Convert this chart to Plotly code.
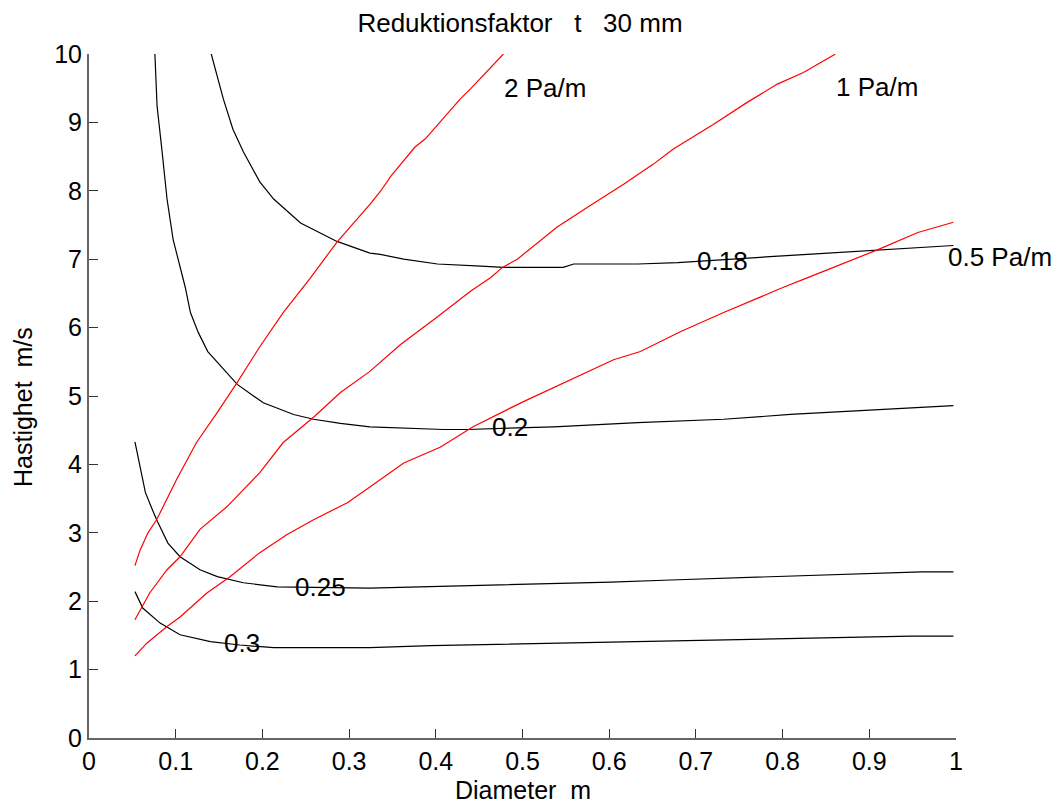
import plotly.graph_objects as go

# Reduction factor curves (black)
c018_x = [0.141, 0.155, 0.166, 0.178, 0.197, 0.213, 0.244, 0.259, 0.286, 0.324, 0.336, 0.363, 0.402, 0.452, 0.478, 0.547, 0.559, 0.633, 0.679, 0.79, 0.867, 0.913, 0.997]
c018_y = [10.0, 9.34, 8.9, 8.57, 8.13, 7.88, 7.53, 7.43, 7.26, 7.09, 7.07, 7.0, 6.93, 6.9, 6.88, 6.88, 6.93, 6.93, 6.95, 7.04, 7.1, 7.14, 7.2]

c02_x = [0.076, 0.0785, 0.084, 0.09, 0.097, 0.111, 0.117, 0.126, 0.137, 0.148, 0.171, 0.201, 0.236, 0.259, 0.29, 0.324, 0.409, 0.436, 0.536, 0.633, 0.732, 0.809, 0.905, 0.997]
c02_y = [10.0, 9.24, 8.61, 7.88, 7.29, 6.59, 6.22, 5.93, 5.65, 5.49, 5.17, 4.9, 4.73, 4.66, 4.6, 4.55, 4.51, 4.51, 4.55, 4.61, 4.66, 4.73, 4.8, 4.86]

c025_x = [0.053, 0.059, 0.065, 0.073, 0.078, 0.091, 0.105, 0.128, 0.148, 0.178, 0.217, 0.324, 0.448, 0.524, 0.602, 0.671, 0.748, 0.813, 0.882, 0.96, 0.997]
c025_y = [4.33, 3.97, 3.59, 3.34, 3.19, 2.85, 2.65, 2.46, 2.36, 2.27, 2.21, 2.19, 2.23, 2.25, 2.28, 2.31, 2.34, 2.37, 2.4, 2.43, 2.43]

c03_x = [0.053, 0.062, 0.082, 0.105, 0.14, 0.174, 0.213, 0.324, 0.394, 0.517, 0.625, 0.729, 0.833, 0.948, 0.997]
c03_y = [2.14, 1.9, 1.68, 1.51, 1.41, 1.36, 1.32, 1.32, 1.35, 1.38, 1.4, 1.43, 1.46, 1.49, 1.49]

# Pressure drop curves (red)
p2_x = [0.053, 0.059, 0.068, 0.078, 0.101, 0.124, 0.148, 0.171, 0.197, 0.224, 0.255, 0.286, 0.324, 0.336, 0.348, 0.376, 0.388, 0.428, 0.44, 0.478]
p2_y = [2.52, 2.75, 3.0, 3.19, 3.78, 4.32, 4.76, 5.2, 5.72, 6.22, 6.72, 7.25, 7.8, 7.99, 8.21, 8.64, 8.76, 9.34, 9.49, 10.0]

p1_x = [0.053, 0.07, 0.09, 0.105, 0.128, 0.159, 0.197, 0.224, 0.259, 0.29, 0.324, 0.359, 0.402, 0.44, 0.463, 0.477, 0.494, 0.54, 0.575, 0.617, 0.651, 0.674, 0.72, 0.76, 0.794, 0.824, 0.861]
p1_y = [1.73, 2.12, 2.46, 2.65, 3.05, 3.38, 3.88, 4.32, 4.69, 5.05, 5.36, 5.75, 6.16, 6.53, 6.73, 6.88, 7.0, 7.47, 7.76, 8.1, 8.39, 8.61, 8.97, 9.3, 9.56, 9.73, 10.0]

p05_x = [0.053, 0.067, 0.09, 0.105, 0.136, 0.163, 0.197, 0.228, 0.259, 0.298, 0.324, 0.363, 0.405, 0.443, 0.498, 0.555, 0.605, 0.636, 0.682, 0.732, 0.767, 0.801, 0.829, 0.859, 0.882, 0.91, 0.956, 0.997]
p05_y = [1.2, 1.39, 1.63, 1.77, 2.12, 2.36, 2.71, 2.97, 3.19, 3.44, 3.67, 4.02, 4.25, 4.55, 4.9, 5.24, 5.53, 5.65, 5.94, 6.22, 6.41, 6.59, 6.73, 6.88, 7.0, 7.14, 7.39, 7.54]

# Labels
contour_labels = ["0.18", "0.2", "0.25", "0.3"]
contour_label_x = [0.731, 0.485, 0.267, 0.177]
contour_label_y = [6.97, 4.55, 2.21, 1.39]

pressure_labels = ["2 Pa/m", "1 Pa/m", "0.5 Pa/m"]
pressure_label_x = [0.476, 0.859, 0.989]
pressure_label_y = [9.5, 9.52, 7.03]

x_ticks = [0, 0.1, 0.2, 0.3, 0.4, 0.5, 0.6, 0.7, 0.8, 0.9, 1]
x_tick_text = ["0", "0.1", "0.2", "0.3", "0.4", "0.5", "0.6", "0.7", "0.8", "0.9", "1"]
y_ticks = list(range(0, 11))

FONT = "Arial, 'Liberation Sans', sans-serif"
FS = 26
TFS = 25

fig = go.Figure()
for xs, ys in [(c018_x, c018_y), (c02_x, c02_y), (c025_x, c025_y), (c03_x, c03_y)]:
    fig.add_trace(go.Scatter(x=xs, y=ys, mode="lines", line=dict(color="black", width=1.2), showlegend=False, hoverinfo="skip"))
for xs, ys in [(p2_x, p2_y), (p1_x, p1_y), (p05_x, p05_y)]:
    fig.add_trace(go.Scatter(x=xs, y=ys, mode="lines", line=dict(color="#ff0000", width=1.2), showlegend=False, hoverinfo="skip"))

annotations = []
for t, x, y in zip(contour_labels, contour_label_x, contour_label_y):
    annotations.append(dict(x=x, y=y, xref="x", yref="y", text=t, showarrow=False,
                            xanchor="center", yanchor="middle", font=dict(family=FONT, size=FS, color="black")))
for t, x, y in zip(pressure_labels, pressure_label_x, pressure_label_y):
    annotations.append(dict(x=x, y=y, xref="x", yref="y", text=t, showarrow=False,
                            xanchor="left", yanchor="middle", font=dict(family=FONT, size=FS, color="black")))
# Axis titles
annotations.append(dict(x=0.5, y=0, xref="paper", yref="paper", text="Diameter\u00a0\u00a0m", showarrow=False,
                        xanchor="center", yanchor="middle", yshift=-52, font=dict(family=FONT, size=TFS, color="black")))
annotations.append(dict(x=0, y=0.5, xref="paper", yref="paper", text="Hastighet\u00a0\u00a0m/s", showarrow=False,
                        textangle=-90, xanchor="center", yanchor="middle", xshift=-66, yshift=-11,
                        font=dict(family=FONT, size=TFS, color="black")))

fig.update_layout(
    width=1058, height=808,
    margin=dict(l=89, r=102, t=54, b=70),
    paper_bgcolor="white", plot_bgcolor="white",
    font=dict(family=FONT, size=FS, color="black"),
    title=dict(text="Reduktionsfaktor\u00a0\u00a0\u00a0t\u00a0\u00a0\u00a030 mm", x=0.4915, xanchor="center",
               y=0.972, yanchor="middle", font=dict(family=FONT, size=FS, color="black")),
    annotations=annotations,
    showlegend=False,
)
fig.update_xaxes(range=[0, 1], tickvals=x_ticks, ticktext=x_tick_text, ticks="inside", ticklen=9,
                 tickcolor="#333", showline=True, linecolor="#666", linewidth=2, showgrid=False, zeroline=False,
                 automargin=False, tickfont=dict(family=FONT, size=25))
fig.update_yaxes(range=[0, 10], tickvals=y_ticks, ticks="inside", ticklen=9,
                 tickcolor="#333", showline=True, linecolor="#666", linewidth=2, showgrid=False, zeroline=False,
                 automargin=False, tickfont=dict(family=FONT, size=25))

fig.write_html("out.html")
